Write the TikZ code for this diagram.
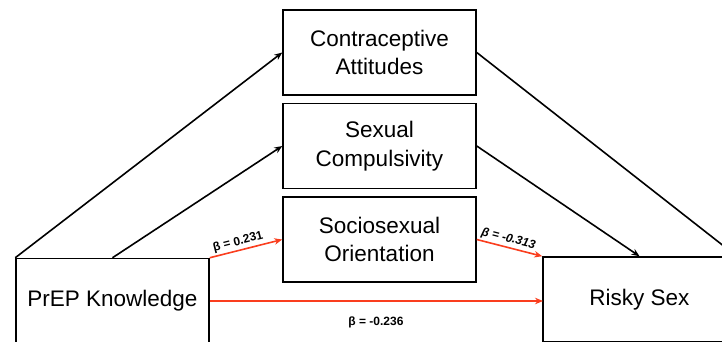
\documentclass[tikz,border=0pt]{standalone}
\usepackage{fontspec}
\setmainfont{Liberation Sans}
\usetikzlibrary{arrows.meta,calc}
\definecolor{pathred}{RGB}{250,62,30}
\begin{document}
\begin{tikzpicture}[x=1pt,y=-1pt,
  box/.style={draw=black, line width=1.5pt, minimum width=193pt, minimum height=85pt,
    inner sep=0pt, align=center, font=\fontsize{22.5}{28.5}\selectfont},
  conn/.style={line width=1.6pt, -{Stealth[length=8pt,width=6.5pt]}},
  redconn/.style={conn, draw=pathred, fill=pathred},
  coef/.style={font=\fontsize{12}{14}\selectfont\bfseries, inner sep=1pt, text=black}]
\useasboundingbox (0,0) rectangle (722,341);
\clip (0,0) rectangle (722,341);
\node[box] (att)   at (379.5,52.5)  {Contraceptive\\Attitudes};
\node[box] (comp)  at (379.5,146)   {Sexual\\Compulsivity};
\node[box] (soc)   at (379.5,239.5) {Sociosexual\\Orientation};
\node[box] (prep)  at (112.5,301)   {PrEP Knowledge};
\node[box] (risky) at (639.5,299.5) {Risky Sex};
\coordinate (rw) at (543,301);
\draw[conn] (prep.north west) -- (att.west);
\draw[conn] (prep.north) -- (comp.west);
\draw[conn] (att.east) -- (risky.north east);
\draw[conn] (comp.east) -- (risky.north);
\draw[redconn] (prep.north east) -- node[coef, pos=0.42, sloped, above=1pt] {β = 0.231} (soc.west);
\draw[redconn] (soc.east) -- node[coef, pos=0.45, sloped, above=1pt, font=\fontsize{12}{14}\selectfont\bfseries\itshape] {β = -0.313} (risky.north west);
\draw[redconn] (prep.east) -- (rw);
\node[coef] (lab) at (376,322) {β = -0.236};
\end{tikzpicture}
\end{document}
